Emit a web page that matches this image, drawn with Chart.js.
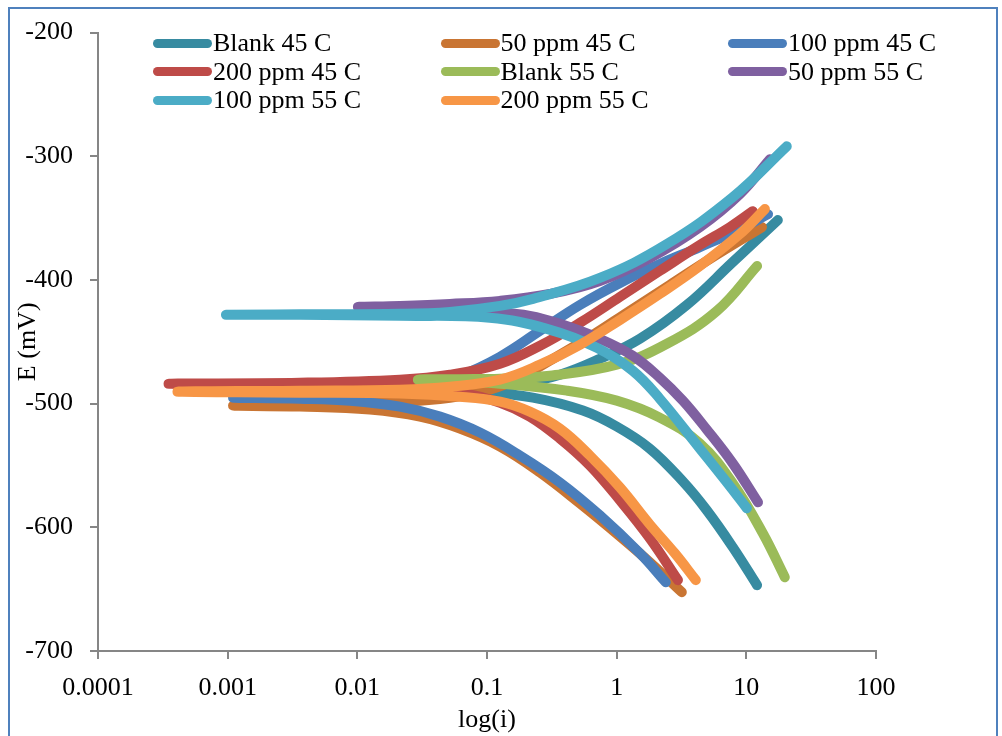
<!DOCTYPE html>
<html>
<head>
<meta charset="utf-8">
<title>Tafel curves</title>
<script src="https://cdn.jsdelivr.net/npm/chart.js@4.4.1/dist/chart.umd.min.js"></script>
<style>
  html, body { margin: 0; padding: 0; background: #fff; }
  body { width: 1002px; height: 736px; position: relative; overflow: hidden; }
  #frame {
    position: absolute; left: 8px; top: 7px; width: 990px; height: 760px;
    border: 2px solid #4F81BD; box-sizing: border-box;
  }
  #plot { position: absolute; left: 0; top: 0; }
  #legend {
    position: absolute; left: 153px; top: 29px;
    display: grid; grid-template-columns: repeat(3, 287.5px); grid-auto-rows: 28.5px;
    font-family: "Liberation Serif", "Times New Roman", serif; font-size: 26px; color: #000;
  }
  #legend .item { display: flex; align-items: center; white-space: nowrap; }
  #legend .swatch { display: inline-block; width: 59px; height: 9px; border-radius: 4.5px; margin-right: 1px; }
</style>
</head>
<body>
<div id="frame"></div>
<canvas id="plot" width="1002" height="736"></canvas>
<div id="legend"></div>
<script>
// series names and colours, in legend order
const seriesNames = ['Blank 45 C', '50 ppm 45 C', '100 ppm 45 C', '200 ppm 45 C',
                     'Blank 55 C', '50 ppm 55 C', '100 ppm 55 C', '200 ppm 55 C'];
const seriesColors = ['#378BA1', '#C97533', '#4A7EBB', '#BE4B48',
                      '#9BBB59', '#7F60A0', '#4BACC6', '#F79646'];

// each curve as [i, E(mV)]: cathodic end -> corrosion potential -> anodic end
const blank45 = [
  [12.1, -646.8], [7.87, -616.1], [4.96, -586.3], [3.24, -562.9], [1.8, -536.3], [1.0, -518.5],
  [0.549, -505.6], [0.226, -495.2], [0.0881, -490.3], [0.0434, -489.5],
  [0.0881, -487.9], [0.179, -483.9], [0.365, -476.6], [0.742, -463.7], [1.51, -447.6],
  [3.48, -420.2], [7.87, -385.5], [17.5, -351.6]
];
const ppm50at45 = [
  [3.18, -652.4], [1.8, -628.2], [1.06, -607.3], [0.52, -580.6], [0.256, -555.6], [0.126, -534.7],
  [0.0618, -520.2], [0.0304, -510.5], [0.0125, -504.8], [0.0036, -502.4], [0.0011, -501.6],
  [0.0036, -500.8], [0.0213, -498.4], [0.0518, -495.2], [0.105, -488.7], [0.179, -479],
  [0.305, -465.3], [0.621, -446], [1.26, -425], [2.57, -404], [5.23, -383.1], [13.2, -357.3]
];
const ppm100at45 = [
  [2.39, -644.4], [1.51, -621], [0.742, -590.3], [0.365, -563.7], [0.179, -541.9], [0.0881, -523.4],
  [0.0434, -510.5], [0.0213, -502.4], [0.0088, -497.6], [0.0036, -496], [0.0011, -495.2],
  [0.0036, -494.4], [0.0105, -491.9], [0.0304, -486.3], [0.0618, -477.4], [0.126, -462.1],
  [0.256, -441.1], [0.52, -420.2], [1.06, -402.4], [2.15, -387.1], [4.38, -373.4], [8.91, -358.9],
  [14.7, -346.8]
];
const ppm200at45 = [
  [2.97, -642.7], [1.8, -608.9], [1.06, -578.2], [0.621, -550], [0.365, -528.2], [0.214, -510.5],
  [0.126, -499.2], [0.0618, -491.1], [0.0213, -487.1], [0.0036, -484.7], [0.00035, -483.9],
  [0.0036, -483.1], [0.0213, -480.6], [0.0518, -476.6], [0.126, -467.7], [0.256, -453.2],
  [0.52, -434.7], [1.06, -413.7], [2.15, -392.7], [4.38, -371.8], [7.46, -357.3], [11.2, -344.4]
];
const blank55 = [
  [19.8, -640.3], [13.4, -604.8], [7.87, -564.5], [4.38, -532.3], [2.15, -511.3], [1.0, -497.6],
  [0.413, -489.5], [0.126, -483.9], [0.0618, -482.3], [0.0293, -480.6],
  [0.0618, -480.2], [0.126, -479.8], [0.305, -477.4], [1.0, -468.5], [2.44, -451.6],
  [5.93, -425], [12.1, -388.7]
];
const ppm50at55 = [
  [12.3, -579.8], [7.87, -548.4], [4.96, -521], [3.24, -497.6], [2.15, -479], [1.33, -461.3],
  [0.742, -447.6], [0.385, -436.3], [0.214, -429], [0.105, -425.8], [0.0518, -424.2],
  [0.0213, -422.6], [0.0101, -421.8],
  [0.0213, -421], [0.0518, -419.4], [0.126, -416.9], [0.305, -411.3], [0.742, -400.8],
  [1.8, -382.3], [4.38, -357.3], [8.91, -330.6], [15.2, -302.4]
];
const ppm100at55 = [
  [10.1, -584.7], [7.08, -563.7], [4.38, -536.3], [2.15, -496], [1.33, -473.4], [0.703, -454.8],
  [0.29, -439.5], [0.105, -430.6], [0.0213, -429], [0.0036, -428.2], [0.00097, -428.2],
  [0.0036, -427.8], [0.0213, -427.4], [0.0518, -425.8], [0.126, -421], [0.226, -415.3],
  [0.742, -398.4], [2.44, -371], [7.87, -333.1], [20.5, -291.9]
];
const ppm200at55 = [
  [4.08, -642.7], [2.81, -621], [1.8, -597.6], [1.06, -567.7], [0.621, -541.9], [0.365, -520.2],
  [0.214, -506.5], [0.126, -498.4], [0.0618, -494.4], [0.0213, -491.9], [0.0036, -491.1],
  [0.00041, -490.3],
  [0.0036, -489.5], [0.0213, -488.7], [0.0518, -486.3], [0.126, -480.6], [0.256, -468.5],
  [0.52, -452.4], [1.06, -432.3], [2.15, -411.3], [4.38, -388.7], [8.91, -362.9], [13.9, -342.7]
];

const seriesData = [blank45, ppm50at45, ppm100at45, ppm200at45, blank55, ppm50at55, ppm100at55, ppm200at55];

// axis ticks
const xTickValues = [0.0001, 0.001, 0.01, 0.1, 1, 10, 100];
const xTickLabels = ['0.0001', '0.001', '0.01', '0.1', '1', '10', '100'];
const yTickValues = [-700, -600, -500, -400, -300, -200];
const yTickLabels = ['-700', '-600', '-500', '-400', '-300', '-200'];

const serif = "'Liberation Serif', 'Times New Roman', serif";
const axisGrey = '#868686';

// later series are painted over earlier ones
const datasets = seriesData.map((pts, idx) => ({
  label: seriesNames[idx],
  data: pts.map(p => ({ x: p[0], y: p[1] })),
  showLine: true,
  borderColor: seriesColors[idx],
  backgroundColor: seriesColors[idx],
  borderWidth: 10,
  borderCapStyle: 'round',
  borderJoinStyle: 'round',
  pointRadius: 0,
  tension: 0.4,
  order: seriesData.length - idx
}));

// legend in three columns
const legendEl = document.getElementById('legend');
seriesNames.forEach((name, idx) => {
  const item = document.createElement('div');
  item.className = 'item';
  const sw = document.createElement('span');
  sw.className = 'swatch';
  sw.style.background = seriesColors[idx];
  item.appendChild(sw);
  item.appendChild(document.createTextNode(name));
  legendEl.appendChild(item);
});

const ctx = document.getElementById('plot').getContext('2d');
new Chart(ctx, {
  type: 'scatter',
  data: { datasets },
  options: {
    responsive: false,
    animation: false,
    events: [],
    layout: { padding: { left: 0, top: 31, right: 126, bottom: 0 } },
    plugins: { legend: { display: false }, tooltip: { enabled: false } },
    scales: {
      x: {
        type: 'logarithmic',
        min: 0.0001,
        max: 100,
        afterBuildTicks: (scale) => { scale.ticks = xTickValues.map(v => ({ value: v })); },
        afterFit: (scale) => { scale.height = 85; },
        ticks: {
          autoSkip: false,
          maxRotation: 0,
          padding: 14,
          color: '#000',
          font: { family: serif, size: 26 },
          callback: (v, i) => xTickLabels[i]
        },
        grid: { drawOnChartArea: false, drawTicks: true, tickLength: 8, color: axisGrey, lineWidth: 2 },
        border: { display: true, color: axisGrey, width: 2 },
        title: {
          display: true, text: 'log(i)', color: '#000',
          font: { family: serif, size: 26 }, padding: { top: 0, bottom: 0 }
        }
      },
      y: {
        min: -700,
        max: -200,
        afterBuildTicks: (scale) => { scale.ticks = yTickValues.map(v => ({ value: v })); },
        afterFit: (scale) => { scale.width = 98; },
        ticks: {
          padding: 17,
          color: '#000',
          font: { family: serif, size: 26 },
          callback: (v, i) => yTickLabels[i]
        },
        grid: { drawOnChartArea: false, drawTicks: true, tickLength: 8, color: axisGrey, lineWidth: 2 },
        border: { display: true, color: axisGrey, width: 2 },
        title: {
          display: true, text: 'E (mV)', color: '#000',
          font: { family: serif, size: 26 }, padding: { top: 13, bottom: 0 }
        }
      }
    }
  }
});
</script>
</body>
</html>
